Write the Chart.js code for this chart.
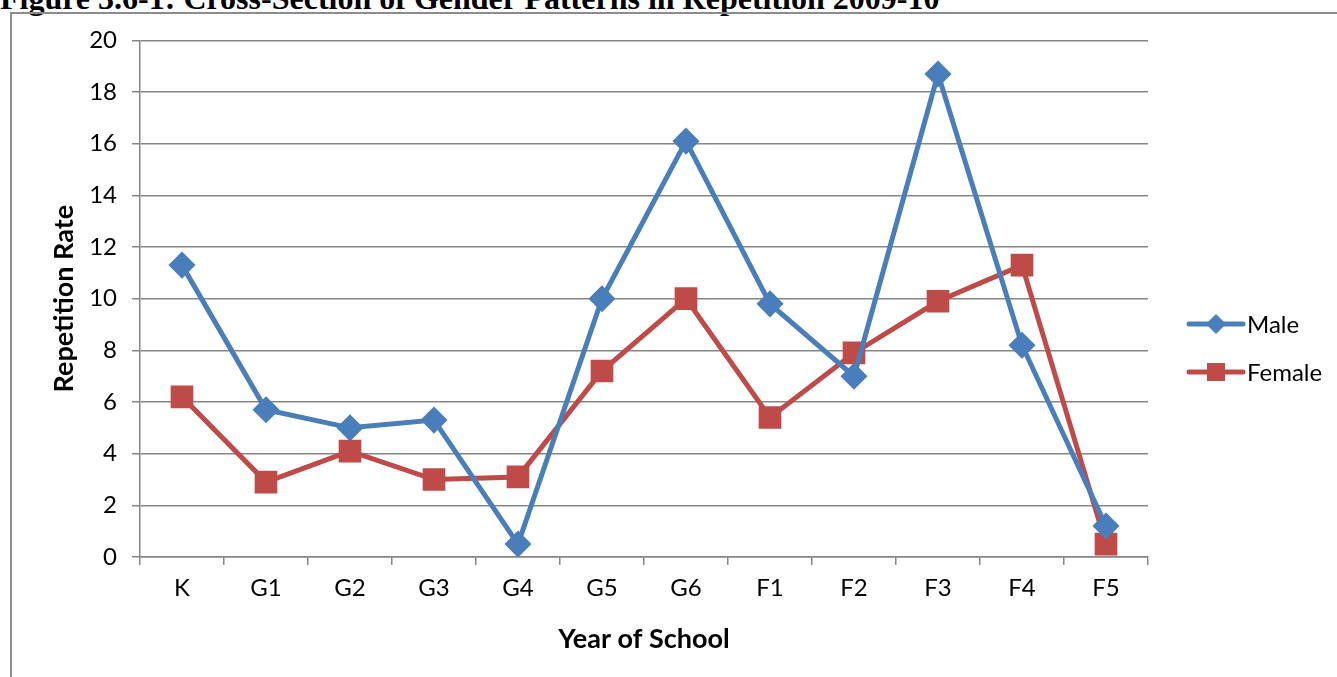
<!DOCTYPE html>
<html>
<head>
<meta charset="utf-8">
<script src="https://cdn.jsdelivr.net/npm/chart.js@4.4.0/dist/chart.umd.min.js"></script>
<style>
body{margin:0;background:#fff;overflow:hidden;width:1337px;height:677px;position:relative;}
#title{position:absolute;left:0;top:-20px;line-height:32px;font:bold 32px "Liberation Serif","DejaVu Serif",serif;color:#000;white-space:nowrap;}
#box{position:absolute;left:10px;top:12px;width:1340px;height:680px;border-left:2px solid #8c8c8c;border-top:2px solid #8c8c8c;}
#wrap{position:absolute;left:0;top:-3px;width:1325px;height:668px;}
</style>
</head>
<body>
<div id="title">Figure 3.6-1: Cross-Section of Gender Patterns in Repetition 2009-10</div>
<div id="box"><div id="wrap"><canvas id="myChart"></canvas></div></div>
<script>
"use strict";

const years=["K","G1","G2","G3","G4","G5","G6","F1","F2","F3","F4","F5"];
const male=[11.3,5.7,5.0,5.3,0.5,10.0,16.1,9.8,7.0,18.7,8.2,1.2];
const female=[6.2,2.9,4.1,3.0,3.1,7.2,10.0,5.4,7.9,9.9,11.3,0.5];
const yTicks=[0,2,4,6,8,10,12,14,16,18,20];

const labelFont={family:"Lato, 'Open Sans', sans-serif",size:24};
const titleFont={family:"Lato, 'Open Sans', sans-serif",size:27,weight:"bold"};

// legend like Excel: line with marker in the middle
const sideLegend={
	id:"sideLegend",
	afterDraw(chart){
		let ctx=chart.ctx;
		let items=chart.data.datasets;
		ctx.save();
		for(let i=0;i<items.length;i++){
			let ds=items[i];
			let y=313+i*48;
			ctx.strokeStyle=ds.borderColor;
			ctx.lineWidth=5;
			ctx.lineCap="round";
			ctx.beginPath();
			ctx.moveTo(1177,y);
			ctx.lineTo(1231,y);
			ctx.stroke();
			ctx.fillStyle=ds.backgroundColor;
			ctx.beginPath();
			if(ds.pointStyle==="rectRot"){
				ctx.moveTo(1204,y-10);ctx.lineTo(1214,y);ctx.lineTo(1204,y+10);ctx.lineTo(1194,y);
			}
			else{
				ctx.rect(1195,y-9,18,18);
			}
			ctx.closePath();
			ctx.fill();
			ctx.fillStyle="#000";
			ctx.font="24px Lato, 'Open Sans', sans-serif";
			ctx.textBaseline="middle";
			ctx.textAlign="left";
			ctx.fillText(ds.label,1235,y+1);
		}
		ctx.restore();
	}
};

let chart=new Chart(document.getElementById("myChart"),{
	type:"line",
	data:{
		labels:years,
		datasets:[
			{label:"Male",data:male,borderColor:"#4a7ebb",backgroundColor:"#4a7ebb",borderWidth:5,
				pointStyle:"rectRot",pointRadius:10,pointHoverRadius:10,tension:0},
			{label:"Female",data:female,borderColor:"#be4b48",backgroundColor:"#be4b48",borderWidth:5,
				pointStyle:"rect",pointRadius:12.5,pointHoverRadius:12.5,tension:0}
		]
	},
	options:{
		responsive:true,
		maintainAspectRatio:false,
		animation:false,
		layout:{padding:{top:21,right:189,left:0,bottom:0}},
		plugins:{legend:{display:false},tooltip:{enabled:false}},
		scales:{
			x:{
				offset:true,
				grid:{offset:true,drawOnChartArea:false,drawTicks:true,tickLength:8,color:"#868686",lineWidth:1.5},
				border:{color:"#868686",width:1.5},
				ticks:{font:labelFont,color:"#000",padding:9,maxRotation:0},
				title:{display:true,text:"Year of School",font:titleFont,color:"#000",padding:{top:0,bottom:24}},
				afterFit(s){s.height=122;}
			},
			y:{
				min:0,max:20,
				afterBuildTicks(s){s.ticks=yTicks.map(v=>({value:v}));},
				grid:{color:"#868686",lineWidth:1.5,tickLength:8},
				border:{color:"#868686",width:1.5},
				ticks:{font:labelFont,color:"#000",padding:15},
				title:{display:true,text:"Repetition Rate",font:titleFont,color:"#000",padding:{top:36,bottom:0}},
				afterFit(s){s.width=128;}
			}
		}
	},
	plugins:[sideLegend]
});
</script>
</body>
</html>
